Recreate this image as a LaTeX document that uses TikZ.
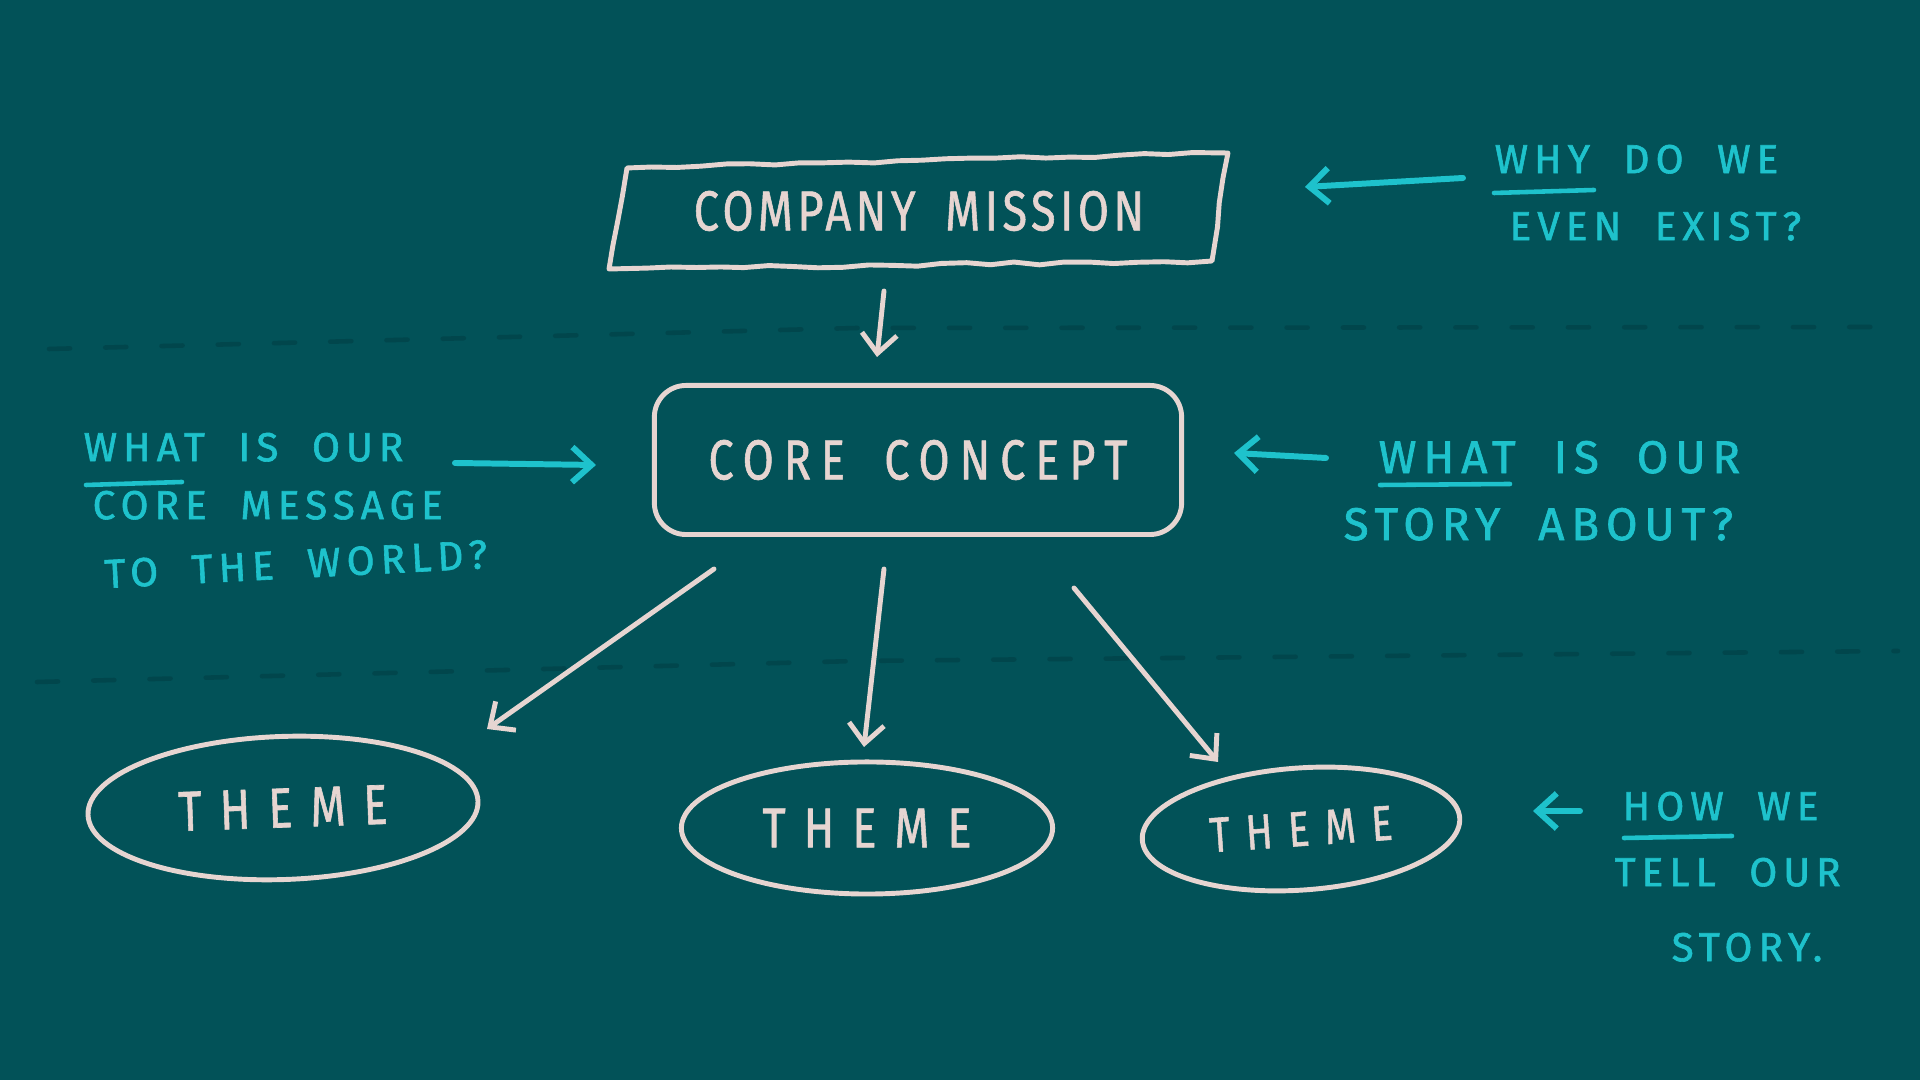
\documentclass[tikz,border=0pt]{standalone}
\usepackage{fontspec}
\usetikzlibrary{arrows.meta,calc,shapes.geometric,decorations.pathmorphing}
\newfontfamily\chalkfont[LetterSpace=8,WordSpace=1.8,FakeBold=1.2]{Fira Sans}
\newfontfamily\notefont[LetterSpace=15,WordSpace=2,FakeBold=1.5]{Fira Sans}
\definecolor{bgteal}{HTML}{025258}
\definecolor{chalk}{HTML}{E6D5D1}
\definecolor{chalkcyan}{HTML}{1EC2CC}
\definecolor{dashc}{HTML}{01464C}
\newcommand\boxtext[2][8]{\scalebox{0.8}[1]{\chalkfont\addfontfeature{LetterSpace=#1}#2}}
\begin{document}
\pgfmathsetseed{7}
\begin{tikzpicture}[x=0.01cm,y=-0.01cm,
  boxlabel/.style={inner sep=0, text=chalk, font=\fontsize{16}{19}\selectfont},
  chalkline/.style={draw=chalk, line width=1.4pt, line join=round, line cap=round},
  rough/.style={decorate, decoration={random steps, segment length=7pt, amplitude=0.45pt}},
  chalkarrow/.style={chalkline, -{Straight Barb[length=5.5pt,width=10pt]}},
  cyanarrow/.style={draw=chalkcyan, line width=1.7pt, line cap=round, -{Straight Barb[length=5.5pt,width=10pt]}},
  underl/.style={draw=chalkcyan, line width=1.3pt, line cap=round},
  note/.style={anchor=west, inner sep=0, text depth=0pt, text=chalkcyan, font=\notefont\fontsize{11.5}{14}\selectfont},
  notebig/.style={note, font=\notefont\fontsize{13}{15}\selectfont},
  themenode/.style={ellipse, chalkline, boxlabel},
  guide/.style={draw=dashc, line width=1.3pt, line cap=round, dash pattern=on 6pt off 10pt}
]
\fill[bgteal] (0,0) rectangle (1920,1080);
\useasboundingbox (0,0) rectangle (1920,1080);

% faint guide lines
\draw[guide] (49,349) -- (857,328) -- (1898,327);
\draw[guide] (37,682) -- (857,661) -- (1898,651);

% company mission
\node[boxlabel, minimum width=6.05cm, minimum height=1.05cm] (mission) at (919,211) {\boxtext[10]{COMPANY MISSION}};
\draw[chalkline, rough] (627,168) -- (1228,153) -- (1212,261) -- (609,269) -- cycle;

% core concept
\node[chalkline, rounded corners=9pt, minimum width=5.27cm, minimum height=1.49cm, boxlabel] (concept) at (918,460) {\boxtext[22]{CORE CONCEPT}};

% themes
\node[themenode, minimum width=3.9cm, minimum height=1.43cm, rotate=2] (theme1) at (283,808) {\boxtext[40]{THEME}};
\node[themenode, minimum width=3.71cm, minimum height=1.32cm] (theme2) at (867,828) {\boxtext[40]{THEME}};
\node[themenode, minimum width=3.18cm, minimum height=1.22cm, rotate=4, font=\fontsize{14}{17}\selectfont] (theme3) at (1301,829) {\boxtext[40]{THEME}};

% chalk arrows
\draw[chalkarrow] ($(mission)+(-35,80)$) -- ($(concept)+(-41,-103)$);
\draw[chalkarrow] ($(concept)+(-204,109)$) -- ($(theme1)+(204,-79)$);
\draw[chalkarrow] ($(concept)+(-34,109)$) -- ($(theme2)+(-3,-81)$);
\draw[chalkarrow] ($(concept)+(156,128)$) -- ($(theme3)+(-83,-67)$);

% notes
\node[note] (whatL) at (83,447) {WHAT IS OUR};
\node[note] (coreL) at (92,505) {CORE MESSAGE};
\node[note, rotate=3] (worldL) at (104,574) {TO THE WORLD?};
\node[notebig] (whatR) at (1378,457) {WHAT IS OUR};
\node[notebig] (storyR) at (1343,524) {STORY ABOUT?};
\node[note] (whyT) at (1494,159) {WHY DO WE};
\node[note] (evenT) at (1509,226) {EVEN EXIST?};
\node[note] (howB) at (1622,806) {HOW WE};
\node[note] (tellB) at (1614,872) {TELL OUR};
\node[note] (storyB) at (1671,947) {STORY.};

% underlines
\draw[underl] (86,485) -- (182,482);
\draw[underl] (1380,485) -- (1510,484);
\draw[underl] (1494,193) -- (1594,190);
\draw[underl] (1624,838) -- (1732,836);

% cyan arrows
\draw[cyanarrow] ($(whatL.west)+(372,16)$) -- ($(concept)+(-322,5)$);
\draw[cyanarrow] ($(whatR.west)+(-52,1)$) -- ($(concept)+(316,-7)$);
\draw[cyanarrow] ($(whyT.west)+(-31,19)$) -- ($(mission)+(386,-24)$);
\draw[cyanarrow] ($(howB.west)+(-42,5)$) -- ($(theme3)+(232,-18)$);
\end{tikzpicture}
\end{document}
